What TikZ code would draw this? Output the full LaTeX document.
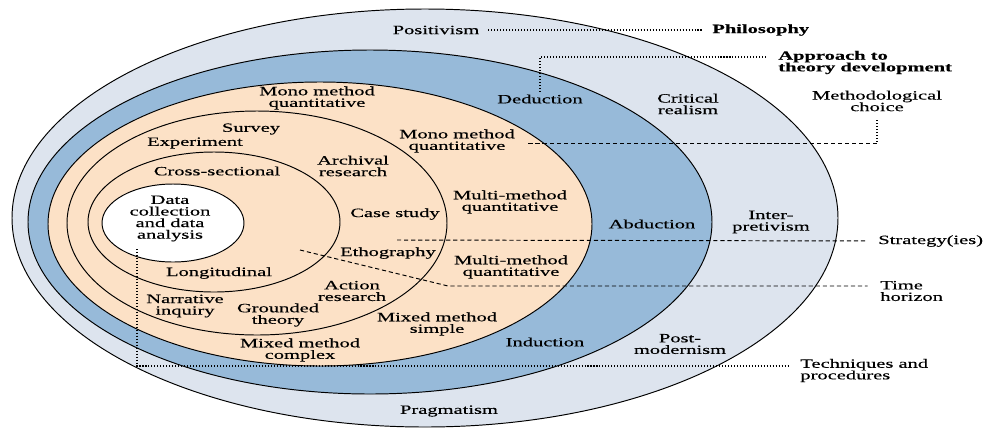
\documentclass[tikz,border=0pt]{standalone}
\usepackage{fontspec}
\setmainfont[FakeStretch=1.62, FakeBold=0.35]{Liberation Serif}
\usepackage{tikz}
\usetikzlibrary{positioning}
\usetikzlibrary{calc}

\definecolor{onionA}{RGB}{221,228,238}
\definecolor{onionB}{RGB}{151,186,217}
\definecolor{onionC}{RGB}{252,225,198}
\newcommand{\onionfont}{\fontsize{7.2}{6.6}\selectfont}

\begin{document}
\begin{tikzpicture}[x=0.02cm, y=-0.02cm,
    layer/.style={draw=black, line width=0.55pt},
    lbl/.style={font=\onionfont, align=center, inner sep=0pt},
    head/.style={lbl, font=\onionfont\bfseries},
    dotline/.style={line width=0.7pt, dash pattern=on 0.6pt off 1.1pt},
    dashline/.style={line width=0.55pt, dash pattern=on 2.4pt off 1.6pt}]
      \clip (0,0) rectangle (984,427);

      % Draw the layers of the onion, outside in
      \foreach \cx/\cy/\rx/\ry/\col in {425/218/413/209/onionA, 370/222/342/172/onionB,
          320/224/272/142/onionC, 257/223/190/112/onionC, 214/222/126/70/onionC, 173/223/71/39/white} {
        \filldraw[layer, fill=\col] (\cx,\cy) ellipse [x radius=\rx, y radius=\ry];
      }

      % Philosophy ring
      \node[lbl] (positivism) at (436,30) {Positivism};
      \node[lbl] (critical) at (688,104) {Critical\\realism};
      \node[lbl] (interpretivism) at (771,222) {Inter-\\pretivism};
      \node[lbl] (postmodernism) at (680,344) {Post-\\modernism};
      \node[lbl] (pragmatism) at (449,411) {Pragmatism};

      % Approach ring
      \node[lbl] (deduction) at (540,99) {Deduction};
      \node[lbl] (abduction) at (652,224) {Abduction};
      \node[lbl] (induction) at (545,342) {Induction};

      % Methodological choice ring
      \node[lbl] (monotop) at (317,98) {Mono method\\quantitative};
      \node[lbl] (monoright) at (457,141) {Mono method\\quantitative};
      \node[lbl] (multitop) at (510,202) {Multi-method\\quantitative};
      \node[lbl] (multibottom) at (511,267) {Multi-method\\quantitative};
      \node[lbl] (mixedsimple) at (437,324) {Mixed method\\simple};
      \node[lbl] (mixedcomplex) at (300,350) {Mixed method\\complex};

      % Strategies ring
      \node[lbl] (survey) at (251,129) {Survey};
      \node[lbl] (experiment) at (195,143) {Experiment};
      \node[lbl] (archival) at (353,166) {Archival\\research};
      \node[lbl] (casestudy) at (395,214) {Case study};
      \node[lbl] (ethography) at (388,253) {Ethography};
      \node[lbl] (action) at (352,291) {Action\\research};
      \node[lbl] (grounded) at (278,315) {Grounded\\theory};
      \node[lbl] (narrative) at (185,306) {Narrative\\inquiry};

      % Time horizon ring and core
      \node[lbl] (crosssectional) at (217,171) {Cross-sectional};
      \node[lbl] (longitudinal) at (219,273) {Longitudinal};
      \node[lbl] (datacore) at (170,218.5) {Data\\collection\\and data\\analysis};

      % Layer names on the right
      \node[head, anchor=west] (philosophy) at (712,30) {Philosophy};
      \node[head, anchor=west, align=left] (approach) at (778,62.5) {Approach to\\theory development};
      \node[lbl] (methchoice) at (877,101) {Methodological\\choice};
      \node[lbl, anchor=west] (strategy) at (878,241) {Strategy(ies)};
      \node[lbl, anchor=west, align=left] (timehorizon) at (880,291) {Time\\horizon};
      \node[lbl, anchor=west, align=left] (techniques) at (800,370.5) {Techniques and\\procedures};

      % Leader lines
      \coordinate (appbend) at (540,57);
      \coordinate (mcbend) at (877,143);
      \coordinate (mcend) at (528,143);
      \coordinate (stratcut) at (397,240);
      \coordinate (timecut) at (300,250);
      \coordinate (timebend) at (448,286);
      \coordinate (techcut) at (137,249);
      \coordinate (techbend) at (137,366);

      \draw[dotline, shorten <=5pt, shorten >=5.5pt] (positivism) -- (philosophy);
      \draw[dotline, shorten <=1.5pt, shorten >=6pt] (deduction.north) -- (appbend) -- (appbend -| approach.west);
      \draw[dotline, shorten <=5pt] (methchoice.south) -- (mcbend);
      \draw[dashline] (mcbend) -- (mcend);
      \draw[dashline, shorten >=6pt] (stratcut) -- (strategy.west);
      \draw[dashline, shorten >=7pt] (timecut) -- (timebend) -- (timebend -| timehorizon.west);
      \draw[dotline, shorten >=6pt] (techcut) -- (techbend) -- (techbend -| techniques.west);
    \end{tikzpicture}
\end{document}
